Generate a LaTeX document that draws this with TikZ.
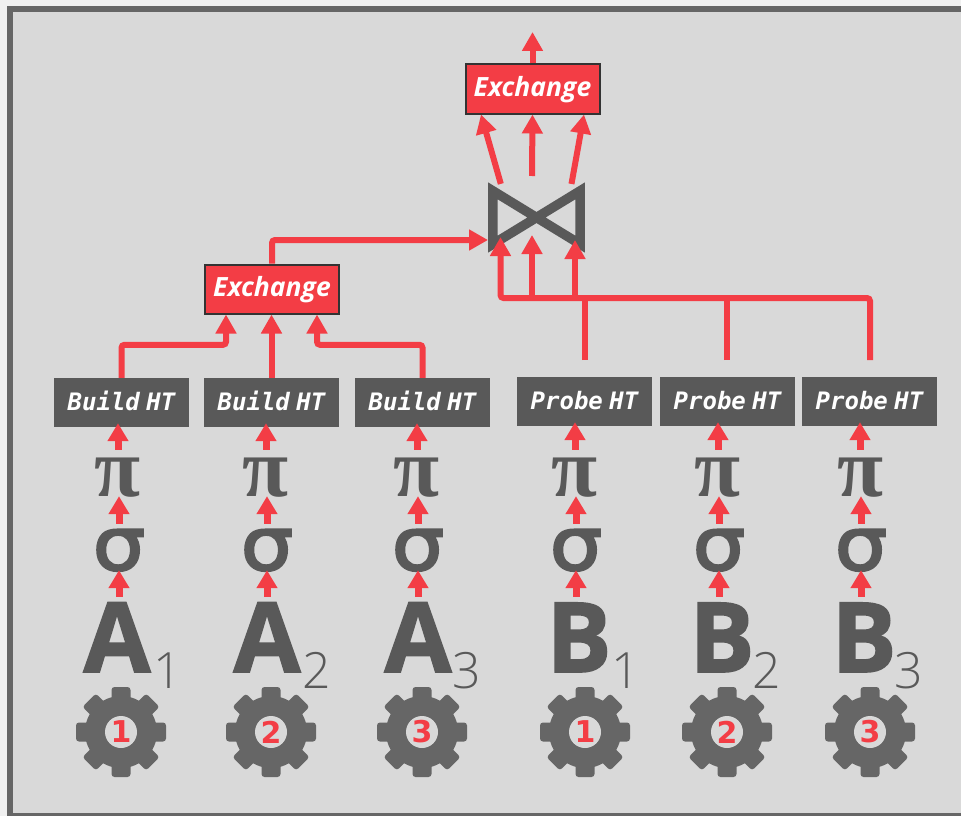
\documentclass[tikz,border=0pt]{standalone}
\usepackage{fontspec}
\setmainfont{Open Sans}
\newfontfamily\monofont{DejaVu Sans Mono}[WordSpace=0.45]
\newfontfamily\pifont{Liberation Serif}
\newfontfamily\sigmafont{DejaVu Sans}[FakeBold=3,FakeStretch=1.12]
\newfontfamily\thinfont{Open Sans Light}
\newfontfamily\heavyfont{Open Sans}[BoldFeatures={FakeBold=1.6}]
\newfontfamily\numfont{DejaVu Sans}
\usetikzlibrary{arrows.meta}
\definecolor{opred}{HTML}{F33D45}
\definecolor{opgray}{HTML}{595959}
\definecolor{coggray}{HTML}{666666}
\definecolor{panelgray}{HTML}{D9D9D9}
\tikzset{
	flow/.style={draw=opred,line width=6pt,rounded corners=3pt,-{Triangle[width=20pt,length=19pt]}},
	wire/.style={draw=opred,line width=6pt,rounded corners=3pt},
	tick/.style={draw=opred,line width=7pt,-{Triangle[width=20pt,length=18pt]}},
	opbox/.style={fill=opgray,text=white,minimum width=135pt,minimum height=49pt,inner sep=0pt,text height=16pt,text depth=0pt,font=\monofont\bfseries\itshape\fontsize{24}{24}\selectfont},
	exbox/.style={fill=opred,draw=black!80,line width=2pt,text=white,minimum width=134pt,minimum height=49pt,inner sep=0pt,text height=14pt,text depth=0pt,font=\bfseries\itshape\fontsize{26.5}{26.5}\selectfont},
	pisym/.style={text=opgray,inner sep=0pt,text height=43pt,text depth=0pt,font=\pifont\bfseries\fontsize{84}{84}\selectfont},
	sigmasym/.style={text=opgray,inner sep=0pt,text height=41pt,text depth=0pt,font=\sigmafont\fontsize{74}{74}\selectfont},
	table/.style={text=opgray,inner sep=0pt,text height=69pt,text depth=0pt,font=\heavyfont\bfseries\fontsize{97}{97}\selectfont},
	tablesub/.style={text=opgray,inner sep=0pt,anchor=base west,font=\thinfont\fontsize{50}{50}\selectfont},
	cognum/.style={circle,fill=panelgray,text=opred,minimum size=32pt,inner sep=0pt,font=\numfont\bfseries\fontsize{30}{30}\selectfont},
	cog/.pic={
		\fill[coggray] (0,0) circle (36pt);
		\foreach \a in {0,45,...,315}
			\fill[coggray,rotate=\a,rounded corners=3pt] (-9.5pt,25pt) rectangle (9.5pt,45pt);
	}
}
\begin{document}
\begin{tikzpicture}[x=1pt,y=-1pt]
	\fill[black!6] (0,0) rectangle (961,816);
	\useasboundingbox (0,0) rectangle (961,816);
	\draw[draw=coggray,fill=panelgray,line width=6pt] (10,9) rectangle (990,816);

	% build side
	\node[opbox] (buildA) at (121.5,402.5) {Build HT};
	\node[opbox] (buildB) at (271.5,402.5) {Build HT};
	\node[opbox] (buildC) at (422.5,402.5) {Build HT};
	\node[pisym] (piA) at (118,474.5) {π};
	\node[pisym] (piB) at (266,474.5) {π};
	\node[pisym] (piC) at (417,474.5) {π};
	\node[sigmasym] (sigmaA) at (119,549.5) {σ};
	\node[sigmasym] (sigmaB) at (267,549.5) {σ};
	\node[sigmasym] (sigmaC) at (418,549.5) {σ};
	\node[table] (tableA) at (117,637.5) {A};
	\node[table] (tableB) at (267,637.5) {A};
	\node[table] (tableC) at (418,637.5) {A};
	\node[tablesub] (subA) at (153,688) {1};
	\node[tablesub] (subB) at (302,688) {2};
	\node[tablesub] (subC) at (452,688) {3};

	% probe side
	\node[opbox] (probeA) at (584.5,401.5) {Probe HT};
	\node[opbox] (probeB) at (727.5,401.5) {Probe HT};
	\node[opbox] (probeC) at (869.5,401.5) {Probe HT};
	\node[pisym] (piD) at (575,474.5) {π};
	\node[pisym] (piE) at (718,474.5) {π};
	\node[pisym] (piF) at (860,474.5) {π};
	\node[sigmasym] (sigmaD) at (576,549.5) {σ};
	\node[sigmasym] (sigmaE) at (719,549.5) {σ};
	\node[sigmasym] (sigmaF) at (861,549.5) {σ};
	\node[table] (tableD) at (579,637.5) {B};
	\node[table] (tableE) at (722,637.5) {B};
	\node[table] (tableF) at (864,637.5) {B};
	\node[tablesub] (subD) at (611,688) {1};
	\node[tablesub] (subE) at (752,688) {2};
	\node[tablesub] (subF) at (894,688) {3};

	% workers
	\pic at (121,732) {cog};
	\pic at (271,732) {cog};
	\pic at (422,732) {cog};
	\pic at (585,732) {cog};
	\pic at (727,732) {cog};
	\pic at (870,732) {cog};
	\node[cognum] (workerA) at (121,732) {1};
	\node[cognum] (workerB) at (271,732) {2};
	\node[cognum] (workerC) at (422,732) {3};
	\node[cognum] (workerD) at (585,732) {1};
	\node[cognum] (workerE) at (727,732) {2};
	\node[cognum] (workerF) at (870,732) {3};

	% upper part
	\node[exbox] (exchangeL) at (272,289) {Exchange};
	\node[exbox] (exchangeT) at (532.5,89) {Exchange};
	\node[minimum width=87pt,minimum height=53pt,inner sep=0pt] (join) at (536.5,217.5) {};
	\draw[draw=opgray,line width=9.5pt,miter limit=10] (join.north west) -- (join.south east) -- (join.north east) -- (join.south west) -- cycle;
	\coordinate (out) at (532.5,32);
	\coordinate (joinIn) at (488,240);
	\coordinate (joinL) at (500.5,237);
	\coordinate (joinM) at (532,235);
	\coordinate (joinR) at (575,240);
	\coordinate (busL) at (500.5,298);
	\coordinate (busR) at (870,298);
	\coordinate (tapD) at (585,360);
	\coordinate (tapE) at (727,360);
	\coordinate (tapF) at (870,360);

	% ticks between the operators
	\foreach \n in {A,B,C,D,E,F}{
		\draw[tick,shorten <=6pt] (sigma\n.south |- table\n.north) -- (sigma\n.south);
		\draw[tick,shorten <=5pt] (sigma\n.north) -- (sigma\n.north |- pi\n.south);
	}
	\draw[tick,shorten <=3pt,shorten >=-4pt] (piA.north) -- (piA.north |- buildA.south);
	\draw[tick,shorten <=3pt,shorten >=-4pt] (piB.north) -- (piB.north |- buildB.south);
	\draw[tick,shorten <=3pt,shorten >=-4pt] (piC.north) -- (piC.north |- buildC.south);
	\draw[tick,shorten <=3pt,shorten >=-4pt] (piD.north) -- (piD.north |- probeA.south);
	\draw[tick,shorten <=3pt,shorten >=-4pt] (piE.north) -- (piE.north |- probeB.south);
	\draw[tick,shorten <=3pt,shorten >=-4pt] (piF.north) -- (piF.north |- probeC.south);

	% data flow
	\draw[flow] (buildA.north) -- ++(0,-33) -| ([xshift=-46pt]exchangeL.south);
	\draw[flow] (buildB.north) -- (exchangeL.south -| buildB.north);
	\draw[flow] (buildC.north) -- ++(0,-33) -| ([xshift=45pt]exchangeL.south);
	\draw[flow] (exchangeL.north) |- (joinIn);
	\draw[wire] (tapD) -- (tapD |- busR);
	\draw[wire] (tapE) -- (tapE |- busR);
	\draw[flow] (tapF) -- (busR) -- (busL) -- (joinL);
	\draw[flow,rounded corners=0pt] (joinM |- busR) -- (joinM);
	\draw[flow,rounded corners=0pt] (joinR |- busR) -- (joinR);
	\draw[flow,shorten <=-3pt] (500,181) -- ([xshift=-51.5pt]exchangeT.south);
	\draw[flow] (532,176) -- (exchangeT.south);
	\draw[flow,shorten <=-3pt] (572,181) -- ([xshift=51.5pt]exchangeT.south);
	\draw[flow] (exchangeT.north) -- (out);
\end{tikzpicture}
\end{document}
